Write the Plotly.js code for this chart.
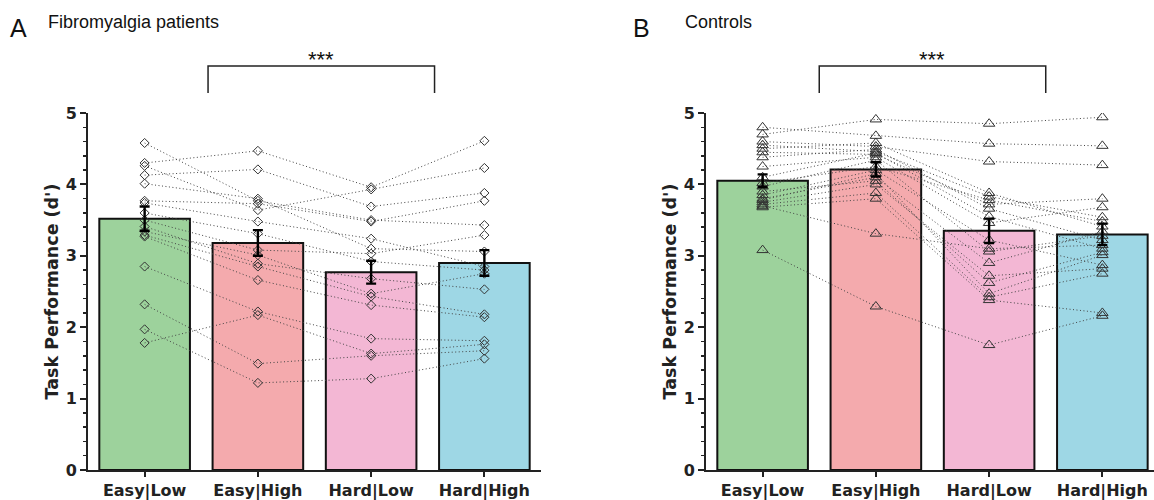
<!DOCTYPE html>
<html>
<head>
<meta charset="utf-8">
<script src="https://cdn.plot.ly/plotly-3.0.1.min.js"></script>
<style>html,body{margin:0;padding:0;background:#fff;}#chart{width:1154px;height:500px;}</style>
</head>
<body>
<div id="chart"></div>
<script>
// ---------- data ----------
const categories = ["Easy|Low", "Easy|High", "Hard|Low", "Hard|High"];
const barColors = ["#9dd29c", "#f4aaad", "#f3b7d4", "#9ed7e5"];

// Panel A: Fibromyalgia patients (means, SEM, per-subject values)
const meansA = [3.52, 3.18, 2.77, 2.90];
const semA   = [0.17, 0.18, 0.16, 0.18];
const easyLowA  = [4.58, 4.30, 4.26, 4.13, 4.01, 3.77, 3.74, 3.60, 3.50, 3.41, 3.34, 3.29, 3.27, 2.85, 2.32, 1.97, 1.78];
const easyHighA = [3.77, 4.47, 3.64, 4.21, 3.80, 3.73, 3.48, 3.31, 3.08, 2.89, 3.01, 2.85, 2.66, 2.22, 1.49, 1.22, 2.17];
const hardLowA  = [3.50, 3.96, 3.93, 3.69, 3.10, 3.48, 3.24, 2.92, 3.03, 2.68, 2.47, 2.43, 2.31, 1.84, 1.60, 1.28, 1.63];
const hardHighA = [3.43, 4.61, 4.23, 3.88, 3.06, 3.77, 2.85, 2.80, 3.29, 2.53, 2.75, 2.18, 2.14, 1.81, 1.67, 1.56, 1.76];

// Panel B: Controls
const meansB = [4.05, 4.21, 3.35, 3.30];
const semB   = [0.09, 0.10, 0.17, 0.15];
const easyLowB  = [4.80, 4.70, 4.60, 4.55, 4.50, 4.45, 4.38, 4.25, 4.10, 4.02, 3.97, 3.90, 3.85, 3.80, 3.78, 3.75, 3.72, 3.70, 3.68, 3.08];
const easyHighB = [4.68, 4.91, 4.53, 4.46, 4.58, 4.42, 4.49, 4.38, 4.44, 4.25, 4.34, 4.05, 4.20, 4.10, 4.15, 4.00, 3.88, 3.31, 3.80, 2.29];
const hardLowB  = [4.57, 4.85, 4.32, 3.83, 3.88, 3.72, 3.66, 3.46, 3.55, 3.78, 3.06, 2.62, 3.22, 2.90, 2.47, 2.72, 2.42, 3.10, 2.38, 1.75];
const hardHighB = [4.54, 4.94, 4.27, 3.54, 3.41, 3.80, 3.22, 3.68, 3.10, 3.48, 3.28, 3.05, 2.87, 3.34, 3.01, 2.82, 2.75, 3.15, 2.20, 2.16];

const yTicks = [0, 1, 2, 3, 4, 5];
const panelTitles = ["Fibromyalgia patients", "Controls"];
const panelLetters = ["A", "B"];
const sigLabel = "***";

// ---------- build ----------
const catIdx = categories.map((c, i) => i);

function subjectLines(cols, xa, ya, symbol, size) {
  const xs = [], ys = [];
  for (let s = 0; s < cols[0].length; s++) {
    for (let c = 0; c < cols.length; c++) { xs.push(catIdx[c]); ys.push(cols[c][s]); }
    xs.push(null); ys.push(null);
  }
  return {
    type: "scatter", mode: "lines+markers", x: xs, y: ys, xaxis: xa, yaxis: ya,
    connectgaps: false, hoverinfo: "skip", showlegend: false,
    line: {color: "#444", width: 1, dash: "1px,2.5px"},
    marker: {symbol: symbol, size: size, color: "#333", line: {color: "#333", width: 1}}
  };
}
function bars(means, xa, ya) {
  return {
    type: "bar", x: catIdx, y: means, xaxis: xa, yaxis: ya, width: 0.8, showlegend: false,
    marker: {color: barColors, line: {color: "#111", width: 2}}, hoverinfo: "skip"
  };
}
function errs(means, sem, xa, ya) {
  return {
    type: "scatter", mode: "markers", x: catIdx, y: means, xaxis: xa, yaxis: ya, showlegend: false,
    marker: {size: 1, color: "rgba(0,0,0,0)"}, hoverinfo: "skip",
    error_y: {type: "data", array: sem, visible: true, color: "#000", thickness: 2.4, width: 5}
  };
}

const data = [
  bars(meansA, "x", "y"),
  subjectLines([easyLowA, easyHighA, hardLowA, hardHighA], "x", "y", "diamond-open", 7),
  errs(meansA, semA, "x", "y"),
  bars(meansB, "x2", "y2"),
  subjectLines([easyLowB, easyHighB, hardLowB, hardHighB], "x2", "y2", "triangle-up-open", 10),
  errs(meansB, semB, "x2", "y2")
];

const W = 1154, H = 500, T = 113, B = 30;
const plotH = H - T - B;
const py = px => (H - B - px) / plotH;   // pixel row -> paper y
const pxX = px => px / W;

const tickFont = {family: "DejaVu Sans", size: 16, color: "#222", weight: "bold"};
function xAxis(domain, range, anchor) {
  return {
    domain: domain, range: range, anchor: anchor, tickvals: catIdx, ticktext: categories,
    showline: true, linecolor: "#222", linewidth: 2, ticks: "outside", ticklen: 5, tickwidth: 2,
    tickcolor: "#222", showgrid: false, zeroline: false, tickfont: tickFont, fixedrange: true
  };
}
function yAxis(anchor) {
  return {
    domain: [0, 1], range: [0, 5], anchor: anchor, tickvals: yTicks, showline: true, linecolor: "#222",
    linewidth: 2, ticks: "outside", ticklen: 6, tickwidth: 2, tickcolor: "#222", showgrid: false,
    zeroline: false, tickfont: tickFont,
    minor: {dtick: 0.2, ticks: "outside", ticklen: 3.5, tickwidth: 1.5, tickcolor: "#222", showgrid: false},
    title: {text: "Task Performance (d')", font: {family: "DejaVu Sans", size: 17.5, color: "#222", weight: "bold"}, standoff: 3},
    fixedrange: true
  };
}

const textFont = {family: "Liberation Sans", size: 18, color: "#111"};
function bracket(xref, x0, x1) {
  return {
    type: "path", xref: xref, yref: "paper",
    path: `M ${x0},${py(93)} L ${x0},${py(66)} L ${x1},${py(66)} L ${x1},${py(93)}`,
    line: {color: "#222", width: 1.5}
  };
}

const layout = {
  width: W, height: H, margin: {l: 0, r: 0, t: T, b: B},
  paper_bgcolor: "#fff", plot_bgcolor: "#fff", showlegend: false, bargap: 0.2,
  xaxis: xAxis([pxX(88), pxX(541)], [-0.5, 3.5], "y"),
  yaxis: yAxis("x"),
  xaxis2: xAxis([pxX(706), 1], [-0.5, 3.456], "y2"),
  yaxis2: yAxis("x2"),
  shapes: [bracket("x", 0.56, 2.56), bracket("x2", 0.5, 2.5)],
  annotations: [
    {xref: "paper", yref: "paper", x: pxX(8), y: py(28), xanchor: "left", yanchor: "middle", text: panelLetters[0], showarrow: false, font: {family: "Liberation Sans", size: 25, color: "#111"}},
    {xref: "paper", yref: "paper", x: pxX(46), y: py(22), xanchor: "left", yanchor: "middle", text: panelTitles[0], showarrow: false, font: textFont},
    {xref: "paper", yref: "paper", x: pxX(631), y: py(28), xanchor: "left", yanchor: "middle", text: panelLetters[1], showarrow: false, font: {family: "Liberation Sans", size: 25, color: "#111"}},
    {xref: "paper", yref: "paper", x: pxX(683), y: py(22), xanchor: "left", yanchor: "middle", text: panelTitles[1], showarrow: false, font: textFont},
    {xref: "x", yref: "paper", x: 1.56, y: py(59), xanchor: "center", yanchor: "middle", text: sigLabel, showarrow: false, font: {family: "Liberation Sans", size: 22, color: "#111"}},
    {xref: "x2", yref: "paper", x: 1.5, y: py(59), xanchor: "center", yanchor: "middle", text: sigLabel, showarrow: false, font: {family: "Liberation Sans", size: 22, color: "#111"}}
  ]
};

Plotly.newPlot("chart", data, layout, {displayModeBar: false, staticPlot: true});
</script>
</body>
</html>
